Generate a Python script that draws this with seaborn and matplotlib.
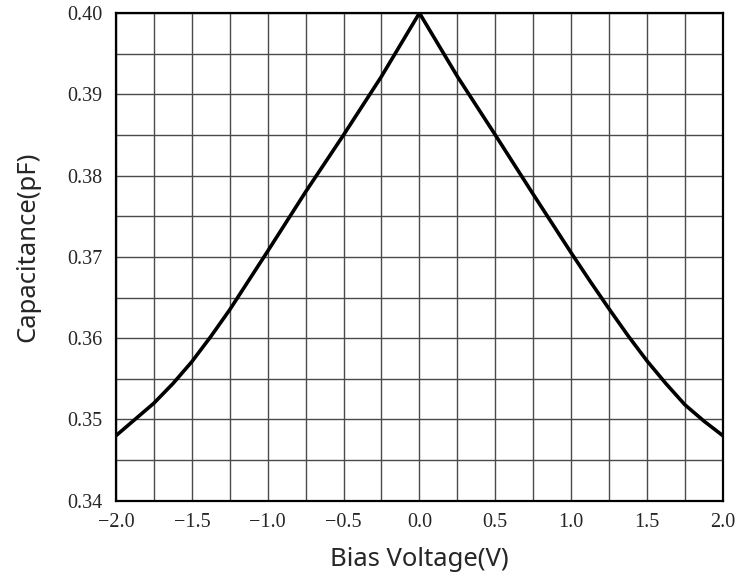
import pandas as pd
import matplotlib.pyplot as plt
import seaborn as sns
from matplotlib.ticker import MultipleLocator, FuncFormatter

# values
bias_v = [-2.0, -1.875, -1.75, -1.625, -1.5, -1.375, -1.25, -1.125, -1.0,
          -0.75, -0.5, -0.25, 0.0, 0.25, 0.5, 0.75,
          1.0, 1.125, 1.25, 1.375, 1.5, 1.625, 1.75, 1.875, 2.0]
cap_pf = [0.3480, 0.3500, 0.3520, 0.3544, 0.3571, 0.3602, 0.3635, 0.3671, 0.3707,
          0.3780, 0.3850, 0.3922, 0.4000, 0.3922, 0.3850, 0.3777,
          0.3705, 0.3670, 0.3636, 0.3603, 0.3572, 0.3544, 0.3518, 0.3498, 0.3480]

df = pd.DataFrame({"bias": bias_v, "cap": cap_pf})

sns.set_style("white")
plt.rcParams['font.family'] = ['Noto Sans', 'DejaVu Sans']

fig = plt.figure(figsize=(7.53, 5.76), dpi=100)
ax = fig.add_axes([0.154, 0.1307, 0.806, 0.8467])

sns.lineplot(data=df, x="bias", y="cap", ax=ax, color="black", linewidth=2.6, zorder=5)

ax.set_xlim(-2.0, 2.0)
ax.set_ylim(0.34, 0.40)
ax.xaxis.set_major_locator(MultipleLocator(0.5))
ax.xaxis.set_minor_locator(MultipleLocator(0.25))
ax.yaxis.set_major_locator(MultipleLocator(0.01))
ax.yaxis.set_minor_locator(MultipleLocator(0.005))
ax.xaxis.set_major_formatter(FuncFormatter(lambda v, p: f"{v:.1f}".replace("-", "\u2212")))
ax.yaxis.set_major_formatter(FuncFormatter(lambda v, p: f"{v:.2f}"))

ax.grid(True, which="both", color="#4a4a4a", linewidth=1.0)
ax.tick_params(which="both", length=0)
ax.tick_params(axis="x", pad=9)
ax.tick_params(axis="y", pad=10)
for lab in ax.get_xticklabels() + ax.get_yticklabels():
    lab.set_family(['Liberation Serif', 'DejaVu Serif'])
    lab.set_fontsize(14.5)

for s in ax.spines.values():
    s.set_color("black")
    s.set_linewidth(1.6)

ax.set_xlabel("Bias Voltage(V)", fontsize=18.5, labelpad=11)
ax.set_ylabel("Capacitance(pF)", fontsize=18.5, labelpad=19)
ax.yaxis.label.set_y(0.52)

fig.savefig("out.png", dpi=100)
